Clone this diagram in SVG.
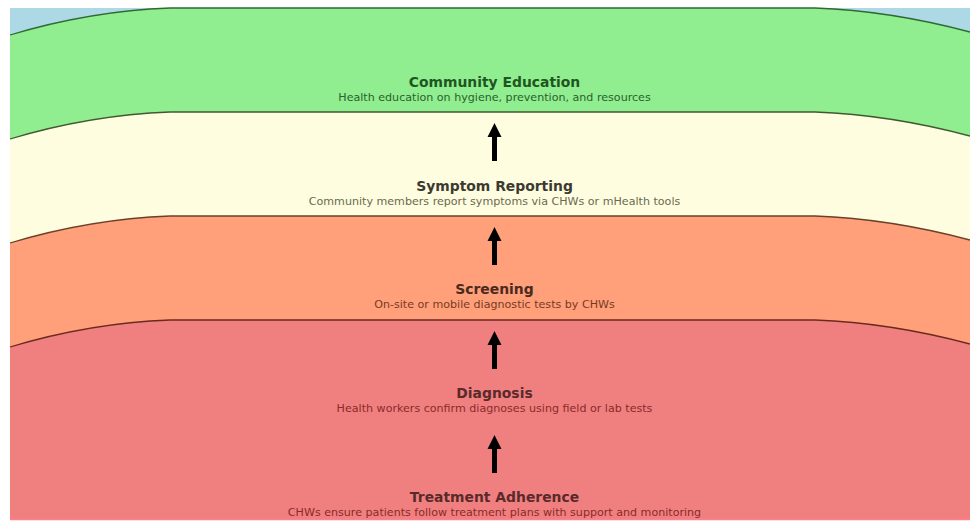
<svg xmlns="http://www.w3.org/2000/svg" width="970" height="525" viewBox="0 0 970 525">
<defs>
<style>
.title{font-family:"DejaVu Sans",sans-serif;font-weight:bold;font-size:13.9px;text-anchor:middle}
.sub{font-family:"DejaVu Sans",sans-serif;font-size:11.1px;text-anchor:middle}
.edge{fill:none;stroke-width:1.3}
.arrow{fill:#000}
</style>
</defs>
<rect width="970" height="525" fill="#ffffff"/>
<rect x="10" y="8" width="960" height="512" fill="#add8e6"/>
<g id="layer-community-education">
<path d="M10,35 C60,20 115,10 170,8 L815,8 C870,10 925,20 970,32 L970,520 L10,520 Z" fill="#90ee90"/>
<path class="edge" d="M10,35 C60,20 115,10 170,8 L815,8 C870,10 925,20 970,32" stroke="#2f6a2f"/>
<text class="title" x="494.5" y="86.5" fill="#1f561f">Community Education</text>
<text class="sub" x="494.5" y="100.5" fill="#2c602c">Health education on hygiene, prevention, and resources</text>
</g>
<g id="layer-symptom-reporting">
<path d="M10,139 C60,124 115,114 170,112 L815,112 C870,114 925,124 970,136 L970,520 L10,520 Z" fill="#fffde0"/>
<path class="edge" d="M10,139 C60,124 115,114 170,112 L815,112 C870,114 925,124 970,136" stroke="#3f5a2f"/>
<text class="title" x="494.5" y="190.5" fill="#3a3a30">Symptom Reporting</text>
<text class="sub" x="494.5" y="204.5" fill="#6a6a50">Community members report symptoms via CHWs or mHealth tools</text>
</g>
<g id="layer-screening">
<path d="M10,243 C60,228 115,218 170,216 L815,216 C870,218 925,228 970,240 L970,520 L10,520 Z" fill="#ffa07a"/>
<path class="edge" d="M10,243 C60,228 115,218 170,216 L815,216 C870,218 925,228 970,240" stroke="#6a4028"/>
<text class="title" x="494.5" y="294" fill="#4a2a1e">Screening</text>
<text class="sub" x="494.5" y="308" fill="#7a3a1e">On-site or mobile diagnostic tests by CHWs</text>
</g>
<g id="layer-diagnosis">
<path d="M10,347 C60,332 115,322 170,320 L815,320 C870,322 925,332 970,344 L970,520 L10,520 Z" fill="#f08080"/>
<path class="edge" d="M10,347 C60,332 115,322 170,320 L815,320 C870,322 925,332 970,344" stroke="#6a2a20"/>
<text class="title" x="494.5" y="398" fill="#5a2a2a">Diagnosis</text>
<text class="sub" x="494.5" y="412" fill="#8a2a2a">Health workers confirm diagnoses using field or lab tests</text>
</g>
<g id="layer-treatment-adherence">
<line x1="10" y1="519.5" x2="970" y2="519.5" stroke="#ff7f8a" stroke-width="1.5"/>
<text class="title" x="494.5" y="501.5" fill="#5a2a2a">Treatment Adherence</text>
<text class="sub" x="494.5" y="515.5" fill="#8a2a2a">CHWs ensure patients follow treatment plans with support and monitoring</text>
</g>
<g id="connectors">
<path class="arrow" d="M494.5,123 L501.5,137 L497,137 L497,161 L492,161 L492,137 L487.5,137 Z"/>
<path class="arrow" d="M494.5,227 L501.5,241 L497,241 L497,265 L492,265 L492,241 L487.5,241 Z"/>
<path class="arrow" d="M494.5,331 L501.5,345 L497,345 L497,369 L492,369 L492,345 L487.5,345 Z"/>
<path class="arrow" d="M494.5,435 L501.5,449 L497,449 L497,473 L492,473 L492,449 L487.5,449 Z"/>
</g>
</svg>
